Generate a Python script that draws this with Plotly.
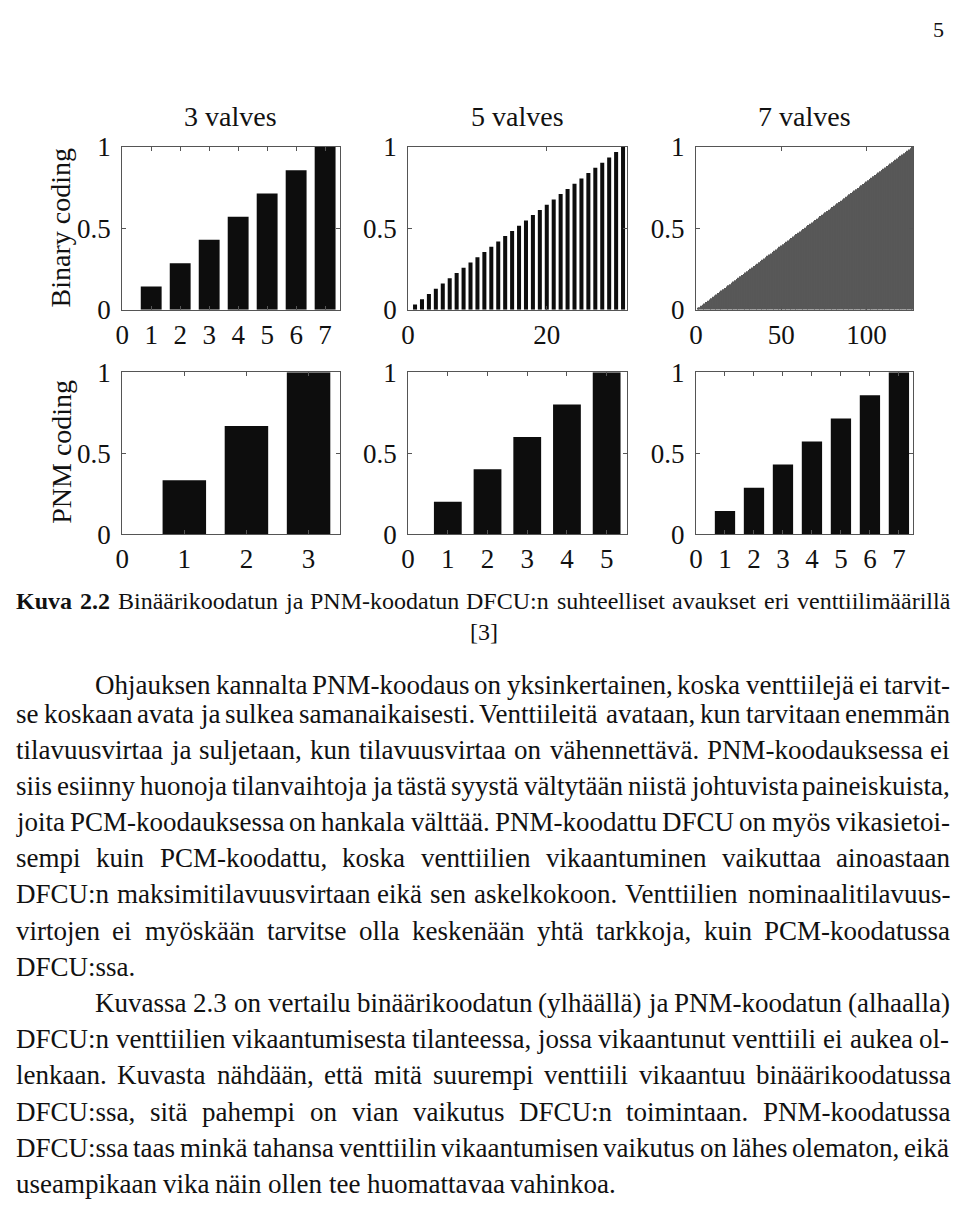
import plotly.graph_objects as go

W, H = 960, 1214
OFF = 8  # page body margin of the html page (pixels)

# ---------------- data ----------------
titles = ["3 valves", "5 valves", "7 valves"]
row_labels = ["Binary coding", "PNM coding"]

bin3_x = [1, 2, 3, 4, 5, 6, 7]
bin3_y = [0.143, 0.286, 0.429, 0.571, 0.714, 0.857, 1.0]

bin5_x = list(range(1, 32))
bin5_y = [0.032, 0.065, 0.097, 0.129, 0.161, 0.194, 0.226, 0.258, 0.290, 0.323,
          0.355, 0.387, 0.419, 0.452, 0.484, 0.516, 0.548, 0.581, 0.613, 0.645,
          0.677, 0.710, 0.742, 0.774, 0.806, 0.839, 0.871, 0.903, 0.935, 0.968,
          1.000]

bin7_x = list(range(1, 128))
bin7_y = [0.008, 0.016, 0.024, 0.031, 0.039, 0.047, 0.055, 0.063, 0.071, 0.079,
          0.087, 0.094, 0.102, 0.110, 0.118, 0.126, 0.134, 0.142, 0.150, 0.157,
          0.165, 0.173, 0.181, 0.189, 0.197, 0.205, 0.213, 0.220, 0.228, 0.236,
          0.244, 0.252, 0.260, 0.268, 0.276, 0.283, 0.291, 0.299, 0.307, 0.315,
          0.323, 0.331, 0.339, 0.346, 0.354, 0.362, 0.370, 0.378, 0.386, 0.394,
          0.402, 0.409, 0.417, 0.425, 0.433, 0.441, 0.449, 0.457, 0.465, 0.472,
          0.480, 0.488, 0.496, 0.504, 0.512, 0.520, 0.528, 0.535, 0.543, 0.551,
          0.559, 0.567, 0.575, 0.583, 0.591, 0.598, 0.606, 0.614, 0.622, 0.630,
          0.638, 0.646, 0.654, 0.661, 0.669, 0.677, 0.685, 0.693, 0.701, 0.709,
          0.717, 0.724, 0.732, 0.740, 0.748, 0.756, 0.764, 0.772, 0.780, 0.787,
          0.795, 0.803, 0.811, 0.819, 0.827, 0.835, 0.843, 0.850, 0.858, 0.866,
          0.874, 0.882, 0.890, 0.898, 0.906, 0.913, 0.921, 0.929, 0.937, 0.945,
          0.953, 0.961, 0.969, 0.976, 0.984, 0.992, 1.000]

pnm3_x = [1, 2, 3]
pnm3_y = [0.333, 0.667, 1.0]

pnm5_x = [1, 2, 3, 4, 5]
pnm5_y = [0.2, 0.4, 0.6, 0.8, 1.0]

pnm7_x = [1, 2, 3, 4, 5, 6, 7]
pnm7_y = [0.143, 0.286, 0.429, 0.571, 0.714, 0.857, 1.0]

y_ticks = [0, 0.5, 1]
y_ticktext = ["0", "0.5", "1"]

page_number = "5"
caption_bold = "Kuva 2.2"
caption_rest = "Binäärikoodatun ja PNM-koodatun DFCU:n suhteelliset avaukset eri venttiilimäärillä"
caption_ref = "[3]"

body_lines = [
    ("Ohjauksen kannalta PNM-koodaus on yksinkertainen, koska venttiilejä ei tarvit-", True, True),
    ("se koskaan avata ja sulkea samanaikaisesti. Venttiileitä avataan, kun tarvitaan enemmän", False, True),
    ("tilavuusvirtaa ja suljetaan, kun tilavuusvirtaa on vähennettävä. PNM-koodauksessa ei", False, True),
    ("siis esiinny huonoja tilanvaihtoja ja tästä syystä vältytään niistä johtuvista paineiskuista,", False, True),
    ("joita PCM-koodauksessa on hankala välttää. PNM-koodattu DFCU on myös vikasietoi-", False, True),
    ("sempi kuin PCM-koodattu, koska venttiilien vikaantuminen vaikuttaa ainoastaan", False, True),
    ("DFCU:n maksimitilavuusvirtaan eikä sen askelkokoon. Venttiilien nominaalitilavuus-", False, True),
    ("virtojen ei myöskään tarvitse olla keskenään yhtä tarkkoja, kuin PCM-koodatussa", False, True),
    ("DFCU:ssa.", False, False),
    ("Kuvassa 2.3 on vertailu binäärikoodatun (ylhäällä) ja PNM-koodatun (alhaalla)", True, True),
    ("DFCU:n venttiilien vikaantumisesta tilanteessa, jossa vikaantunut venttiili ei aukea ol-", False, True),
    ("lenkaan. Kuvasta nähdään, että mitä suurempi venttiili vikaantuu binäärikoodatussa", False, True),
    ("DFCU:ssa, sitä pahempi on vian vaikutus DFCU:n toimintaan. PNM-koodatussa", False, True),
    ("DFCU:ssa taas minkä tahansa venttiilin vikaantumisen vaikutus on lähes olematon, eikä", False, True),
    ("useampikaan vika näin ollen tee huomattavaa vahinkoa.", False, False),
]

# ---------------- layout geometry (screen pixels) ----------------
col_px = [(116, 335), (404, 624), (694, 913)]
row_px = [(135, 302), (366, 532)]
x_ranges = [[0, 7.5], [0, 31.5], [0, 127.5], [0, 3.5], [0, 5.5], [0, 7.5]]
x_dticks = [1, 20, 50, 1, 1, 1]

FONT = "Liberation Serif"
INK = "#111111"
AX = "#555555"


def px_x(v):
    return (v - OFF) / W


def px_y(v):
    return 1 - (v - OFF) / H


fig = go.Figure()

panels = [
    (bin3_x, bin3_y, 0.72, "#0d0d0d"),
    (bin5_x, bin5_y, 0.58, "#0d0d0d"),
    (bin7_x, bin7_y, 0.75, "#585858"),
    (pnm3_x, pnm3_y, 0.70, "#0d0d0d"),
    (pnm5_x, pnm5_y, 0.70, "#0d0d0d"),
    (pnm7_x, pnm7_y, 0.70, "#0d0d0d"),
]

layout_axes = {}
for i, (xs, ys, bw, col) in enumerate(panels):
    r, c = divmod(i, 3)
    n = i + 1
    xa = "x" if n == 1 else f"x{n}"
    ya = "y" if n == 1 else f"y{n}"
    fig.add_trace(go.Bar(x=xs, y=ys, width=bw, marker=dict(color=col, line=dict(width=0)),
                         xaxis=xa, yaxis=ya, showlegend=False, hoverinfo="skip"))
    common = dict(showline=True, linecolor=AX, linewidth=1, mirror="ticks",
                  ticks="inside", ticklen=4, tickcolor=AX, showgrid=False,
                  zeroline=False, tickfont=dict(family=FONT, size=27, color=INK),
                  fixedrange=True)
    layout_axes["xaxis" if n == 1 else f"xaxis{n}"] = dict(
        domain=[px_x(col_px[c][0]), px_x(col_px[c][1])], range=x_ranges[i],
        tick0=0, dtick=x_dticks[i], anchor=ya, ticklabelstandoff=1, **common)
    layout_axes["yaxis" if n == 1 else f"yaxis{n}"] = dict(
        domain=[px_y(row_px[r][1]), px_y(row_px[r][0])], range=[0, 1],
        tickvals=y_ticks, ticktext=y_ticktext, anchor=xa, ticklabelstandoff=5, **common)

fig.update_layout(**layout_axes)

annotations = []


def ann(text, x, y, size, xanchor="left", angle=0):
    annotations.append(dict(text=text, x=px_x(x), y=px_y(y), xref="paper", yref="paper",
                            showarrow=False, xanchor=xanchor, yanchor="middle",
                            textangle=angle, borderpad=0,
                            font=dict(family=FONT, size=size, color=INK)))


# panel titles and row labels
for c, t in enumerate(titles):
    ann(t, (col_px[c][0] + col_px[c][1]) / 2, 104, 28, xanchor="center")
ann(row_labels[0], 54, 218, 28, xanchor="center", angle=-90)
ann(row_labels[1], 54, 448, 28, xanchor="center", angle=-90)

# page number
ann(page_number, 938, 15, 22, xanchor="center")

# Times-metric widths (per 1000 em)
TR = {' ': 250, '(': 333, ')': 333, ',': 250, '-': 333, '.': 250, ':': 278,
      '[': 333, ']': 333,
      'A': 722, 'B': 667, 'C': 667, 'D': 722, 'E': 611, 'F': 556, 'G': 722, 'H': 722,
      'I': 333, 'J': 389, 'K': 722, 'L': 611, 'M': 889, 'N': 722, 'O': 722, 'P': 556,
      'Q': 722, 'R': 667, 'S': 556, 'T': 611, 'U': 722, 'V': 722, 'W': 944, 'X': 722,
      'Y': 722, 'Z': 611,
      'a': 444, 'b': 500, 'c': 444, 'd': 500, 'e': 444, 'f': 333, 'g': 500, 'h': 500,
      'i': 278, 'j': 278, 'k': 500, 'l': 278, 'm': 778, 'n': 500, 'o': 500, 'p': 500,
      'q': 500, 'r': 333, 's': 389, 't': 278, 'u': 500, 'v': 500, 'w': 722, 'x': 500,
      'y': 500, 'z': 444, 'ä': 444, 'ö': 500, 'å': 444}
TB = {'K': 778, 'u': 556, 'v': 500, 'a': 500, '2': 500, '.': 250, ' ': 250}


def wid(s, fs, bold=False):
    t = TB if bold else TR
    return sum(t.get(ch, 500) for ch in s) * fs / 1000.0


def put_line(words, y, x0, x1, fs, justify, bold_n=0):
    widths = [wid(w, fs, k < bold_n) for k, w in enumerate(words)]
    if justify and len(words) > 1:
        gap = (x1 - x0 - sum(widths)) / (len(words) - 1)
        gap = max(gap, 0.12 * fs)
    else:
        gap = 0.25 * fs
    x = x0
    for k, w in enumerate(words):
        txt = f"<b>{w}</b>" if k < bold_n else w
        ann(txt, x, y, fs)
        x += widths[k] + gap


# caption
cap_words = caption_bold.split(" ") + caption_rest.split(" ")
put_line(cap_words, 601, 8, 948, 24, True, bold_n=2)
ann(caption_ref, 480, 632, 24, xanchor="center")

# body text
body_y = [687, 716]
for k in range(2, len(body_lines)):
    body_y.append(716 + (k - 1) * 37.1)
for (text, indent, justify), y in zip(body_lines, body_y):
    x0 = 88 if indent else 8
    put_line(text.split(" "), y, x0, 948, 27, justify)

fig.update_layout(annotations=annotations, width=W, height=H,
                  margin=dict(l=0, r=0, t=0, b=0), paper_bgcolor="white",
                  plot_bgcolor="white", bargap=0.3, showlegend=False)

fig.write_html("out.html")
